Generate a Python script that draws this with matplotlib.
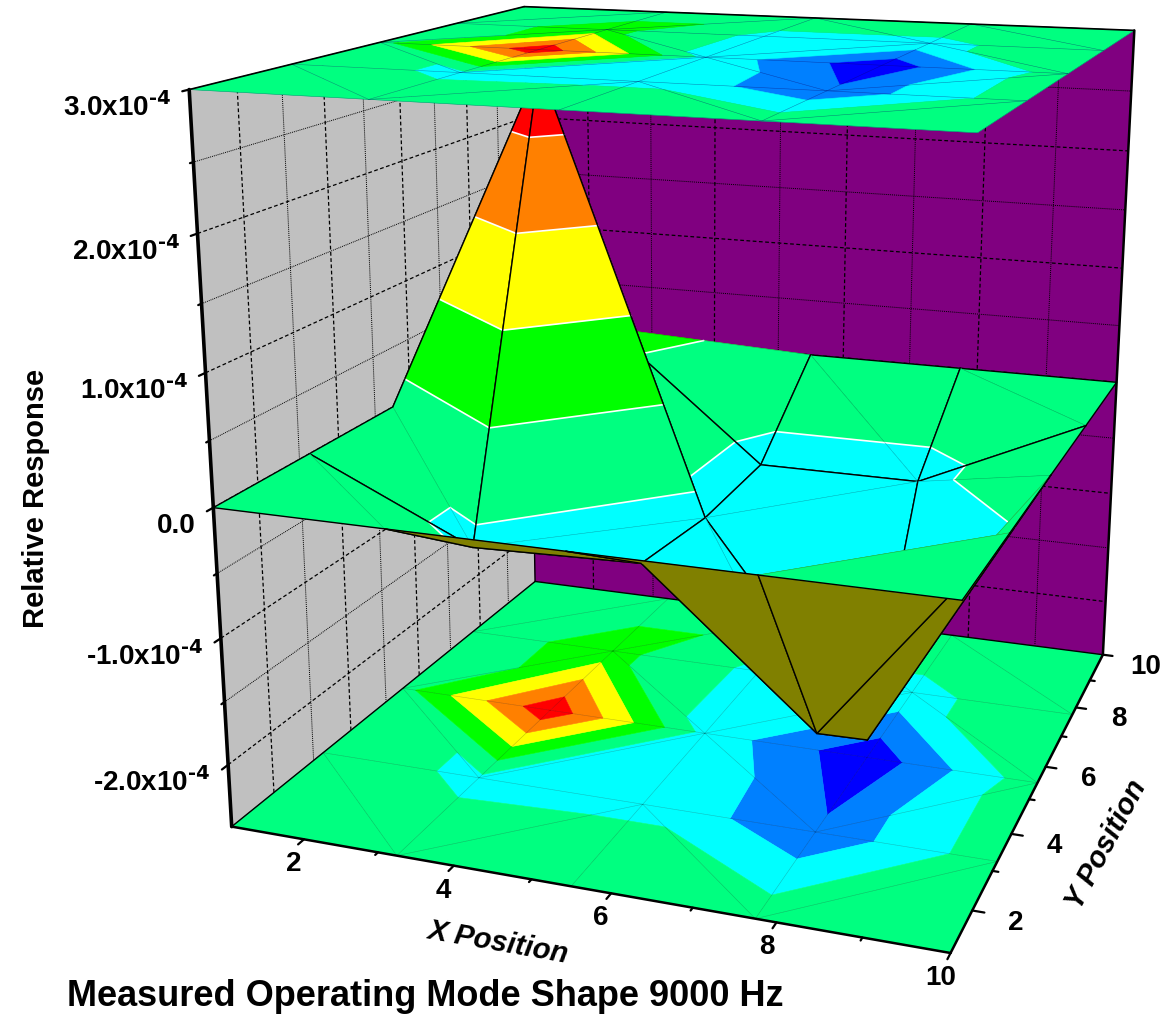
import numpy as np
import matplotlib
matplotlib.use("Agg")
import matplotlib.pyplot as plt
from matplotlib.patches import Polygon

plt.rcParams["font.family"] = ["Liberation Sans", "DejaVu Sans"]
plt.rcParams["font.weight"] = "bold"
plt.rcParams["mathtext.default"] = "regular"

# measured grid, response in units of 1e-4
x_pos = [1, 3.25, 5.5, 7.75, 10]
y_pos = [1, 3.25, 5.5, 7.75, 10]
z_y1 = [0.0, 0.0, 0.0, 0.0, 0.0]
z_y2 = [0.0, -0.6, -0.56, -1.71, 0.0]
z_y3 = [0.0, 2.87, -0.65, -2.35, 0.0]
z_y4 = [0.0, 0.46, -0.62, -0.62, 0.0]
z_y5 = [0.0, 0.0, 0.0, 0.0, 0.0]

levels = [-1.85, -1.15, -0.44, 0.25, 0.95, 1.65, 2.35]
band_colors = ["#0000ff", "#0080ff", "#00ffff", "#00ff80", "#00ff00", "#ffff00", "#ff8000", "#ff0000"]
z_ticks = [3, 2, 1, 0, -1, -2]
z_labels = ["3.0x10$^{\\text{-4}}$", "2.0x10$^{\\text{-4}}$", "1.0x10$^{\\text{-4}}$", "0.0",
            "-1.0x10$^{\\text{-4}}$", "-2.0x10$^{\\text{-4}}$"]
xy_ticks = [2, 4, 6, 8, 10]

FLOOR, CEIL = -2.5, 3.0
UNDER, WALL_L, WALL_B = "#808000", "#c0c0c0", "#800080"

# camera: box points and where the reference shows them
cam_pts = [
    (1, 1, FLOOR), (10, 1, FLOOR), (10, 10, FLOOR), (1, 10, FLOOR),
    (1, 1, CEIL), (10, 1, CEIL), (10, 10, CEIL), (1, 10, CEIL),
    (1, 1, 2), (1, 1, 1), (1, 1, 0), (1, 1, -1), (1, 1, -2),
    (3.25, 3.25, FLOOR), (5.5, 3.25, FLOOR), (7.75, 3.25, FLOOR),
    (3.25, 5.5, FLOOR), (5.5, 5.5, FLOOR), (7.75, 5.5, FLOOR),
    (3.25, 7.75, FLOOR), (7.75, 7.75, FLOOR), (3.25, 1, FLOOR), (7.75, 1, FLOOR),
]
cam_px = [
    (233, 824), (950, 955), (1107, 655), (535, 582),
    (190, 88), (978, 133), (1135, 32), (523, 7),
    (197, 233), (204, 373), (215, 505), (221, 640), (228, 765),
    (480, 773), (643, 802), (813, 829),
    (550, 708), (703, 732), (865, 757),
    (613, 652), (910, 693), (399, 872), (755, 915),
]
rows = []
rhs = []
for (x, y, z), (u, v) in zip(cam_pts, cam_px):
    rows.append([x, y, z, 1, 0, 0, 0, 0, -u * x, -u * y, -u * z])
    rows.append([0, 0, 0, 0, x, y, z, 1, -v * x, -v * y, -v * z])
    rhs += [u, v]
P = np.append(np.linalg.lstsq(np.array(rows, float), np.array(rhs, float), rcond=None)[0], 1).reshape(3, 4)


def project(pts):
    pts = np.atleast_2d(np.asarray(pts, float))
    h = np.c_[pts, np.ones(len(pts))] @ P.T
    return h[:, :2] / h[:, 2:]


def depth(pts):
    pts = np.atleast_2d(np.asarray(pts, float))
    return (np.c_[pts, np.ones(len(pts))] @ P[2]).mean()


def clip(poly, level, keep_above):
    out = []
    for k in range(len(poly)):
        a, b = poly[k], poly[(k + 1) % len(poly)]
        a_in = a[2] >= level if keep_above else a[2] <= level
        b_in = b[2] >= level if keep_above else b[2] <= level
        if a_in:
            out.append(a)
        if a_in != b_in:
            out.append(a + (b - a) * (level - a[2]) / (b[2] - a[2]))
    return out


def band_polys(tri):
    edges = [-99] + levels + [99]
    for lo, hi, color in zip(edges[:-1], edges[1:], band_colors):
        poly = clip(list(tri), lo, True)
        if poly:
            poly = clip(poly, hi, False)
        if len(poly) > 2:
            yield np.array(poly), color


def level_segments(tri):
    for level in levels:
        cut = []
        for k in range(3):
            a, b = tri[k], tri[(k + 1) % 3]
            if (a[2] - level) * (b[2] - level) < 0:
                cut.append(a + (b - a) * (level - a[2]) / (b[2] - a[2]))
        if len(cut) == 2:
            yield np.array(cut)


fig = plt.figure(figsize=(11.69, 10.17), dpi=100)
ax = fig.add_axes([0, 0, 1, 1])
ax.set_xlim(0, 1169)
ax.set_ylim(1017, 0)
ax.axis("off")

order = [2]


def next_z():
    order[0] += 1
    return order[0]


def fill(pts3, color, lw=0.4):
    ax.add_patch(Polygon(project(pts3), closed=True, fc=color, ec=color, lw=lw, zorder=next_z()))


def line3(pts3, **kw):
    xy = project(pts3)
    ax.plot(xy[:, 0], xy[:, 1], zorder=next_z(), solid_capstyle="round", **kw)


z_grid = np.array([z_y1, z_y2, z_y3, z_y4, z_y5])

# each cell is split along the diagonal with the smaller height difference
triangles = []
diagonals = []
for j in range(4):
    for i in range(4):
        a, b, c, d = (i, j), (i + 1, j), (i + 1, j + 1), (i, j + 1)
        if abs(z_grid[j, i] - z_grid[j + 1, i + 1]) < abs(z_grid[j, i + 1] - z_grid[j + 1, i]):
            triangles += [(a, b, c), (a, c, d)]
            diagonals.append((a, c))
        else:
            triangles += [(a, b, d), (b, c, d)]
            diagonals.append((b, d))


def tri_values(tri):
    return np.array([[x_pos[i], y_pos[j], z_grid[j, i]] for i, j in tri])


def flat(poly, height):
    out = poly.copy()
    out[:, 2] = height
    return out


DASH = (0, (3, 2))
DOT = (0, (1, 1))

# walls
fill([(1, 1, FLOOR), (1, 10, FLOOR), (1, 10, CEIL), (1, 1, CEIL)], WALL_L)
fill([(1, 10, FLOOR), (10, 10, FLOOR), (10, 10, CEIL), (1, 10, CEIL)], WALL_B)
for tick in range(2, 10):
    style = dict(color="black", lw=0.9, ls=DASH) if tick % 2 == 0 else dict(color="black", lw=0.7, ls=DOT)
    line3([(1, tick, FLOOR), (1, tick, CEIL)], **style)
    line3([(tick, 10, FLOOR), (tick, 10, CEIL)], **style)
for tick in np.arange(-2, 3, 0.5):
    style = dict(color="black", lw=0.9, ls=DASH) if tick == int(tick) else dict(color="black", lw=0.7, ls=DOT)
    line3([(1, 1, tick), (1, 10, tick)], **style)
    line3([(1, 10, tick), (10, 10, tick)], **style)
line3([(1, 10, FLOOR), (1, 10, CEIL)], color="black", lw=1.0)


def draw_plane(height, seam):
    for tri in triangles:
        for poly, color in band_polys(tri_values(tri)):
            fill(flat(poly, height), color)
    for j in range(5):
        line3([(1, y_pos[j], height), (10, y_pos[j], height)], color=seam, lw=0.4)
        line3([(x_pos[j], 1, height), (x_pos[j], 10, height)], color=seam, lw=0.4)
    for a, b in diagonals:
        line3([(x_pos[a[0]], y_pos[a[1]], height), (x_pos[b[0]], y_pos[b[1]], height)], color=seam, lw=0.4)


# floor contour map
draw_plane(FLOOR, "#00000040")
line3([(1, 1, FLOOR), (1, 10, FLOOR)], color="black", lw=1.0)
line3([(1, 10, FLOOR), (10, 10, FLOOR)], color="black", lw=1.0)

# surface, far triangles first
far_sign = np.sign(depth([1, 10, 0]) - depth([10, 1, 0]))
for tri in sorted(triangles, key=lambda t: -far_sign * depth(tri_values(t))):
    pts = tri_values(tri)
    xy = project(pts)
    area = np.cross(xy[1] - xy[0], xy[2] - xy[0])
    if area < 0:
        for poly, color in band_polys(pts):
            fill(poly, color)
        for seg in level_segments(pts):
            line3(seg, color="white", lw=1.2)
    else:
        fill(pts, UNDER)
    # mesh edges in black, the diagonal only as a faint seam
    for k in range(3):
        p, q = tri[k], tri[(k + 1) % 3]
        if p[0] == q[0] or p[1] == q[1]:
            line3([pts[k], pts[(k + 1) % 3]], color="black", lw=1.0)
        elif area < 0:
            line3([pts[k], pts[(k + 1) % 3]], color="#00000030", lw=0.4)

# ceiling contour map
draw_plane(CEIL, "#00006060")
line3([(1, 1, CEIL), (1, 10, CEIL)], color="black", lw=1.2)
line3([(1, 10, CEIL), (10, 10, CEIL)], color="black", lw=1.2)

# box edges and axes
line3([(1, 1, FLOOR), (1, 1, CEIL)], color="black", lw=2.6)
line3([(10, 10, FLOOR), (10, 10, CEIL)], color="black", lw=1.8)
line3([(1, 1, FLOOR), (10, 1, FLOOR)], color="black", lw=1.8)
line3([(10, 1, FLOOR), (10, 10, FLOOR)], color="black", lw=1.8)

for tick in np.arange(-2, 3.5, 0.5):
    size = 0.14 if tick == int(tick) else 0.07
    line3([(1, 1, tick), (1, 1 - size, tick)], color="black", lw=1.6)
for tick in range(2, 11):
    size = 0.14 if tick % 2 == 0 else 0.07
    line3([(tick, 1, FLOOR), (tick, 1 - size, FLOOR)], color="black", lw=1.6)
    line3([(10, tick, FLOOR), (10 + size, tick, FLOOR)], color="black", lw=1.6)

for tick, label in zip(z_ticks, z_labels):
    u, v = project([1, 1, tick])[0]
    ax.text(u - 18, v + 18, label, fontsize=20, ha="right", va="center", zorder=next_z())
for tick in xy_ticks:
    u, v = project([tick, 1, FLOOR])[0]
    ax.text(u - 10, v + 25, str(tick), fontsize=20, ha="center", va="center", zorder=next_z())
    u, v = project([10, tick, FLOOR])[0]
    ax.text(u + 43, v + 12, str(tick), fontsize=20, ha="center", va="center", zorder=next_z())

ax.text(36, 498, "Relative Response", fontsize=21, rotation=90, ha="center", va="center")
ax.text(498, 942, "X Position", fontsize=21, rotation=-10, style="italic", ha="center", va="center")
ax.text(1106, 845, "Y Position", fontsize=21, rotation=62, style="italic", ha="center", va="center")
ax.text(67, 997, "Measured Operating Mode Shape 9000 Hz", fontsize=26, ha="left", va="center")

fig.savefig("out.png", dpi=100)
